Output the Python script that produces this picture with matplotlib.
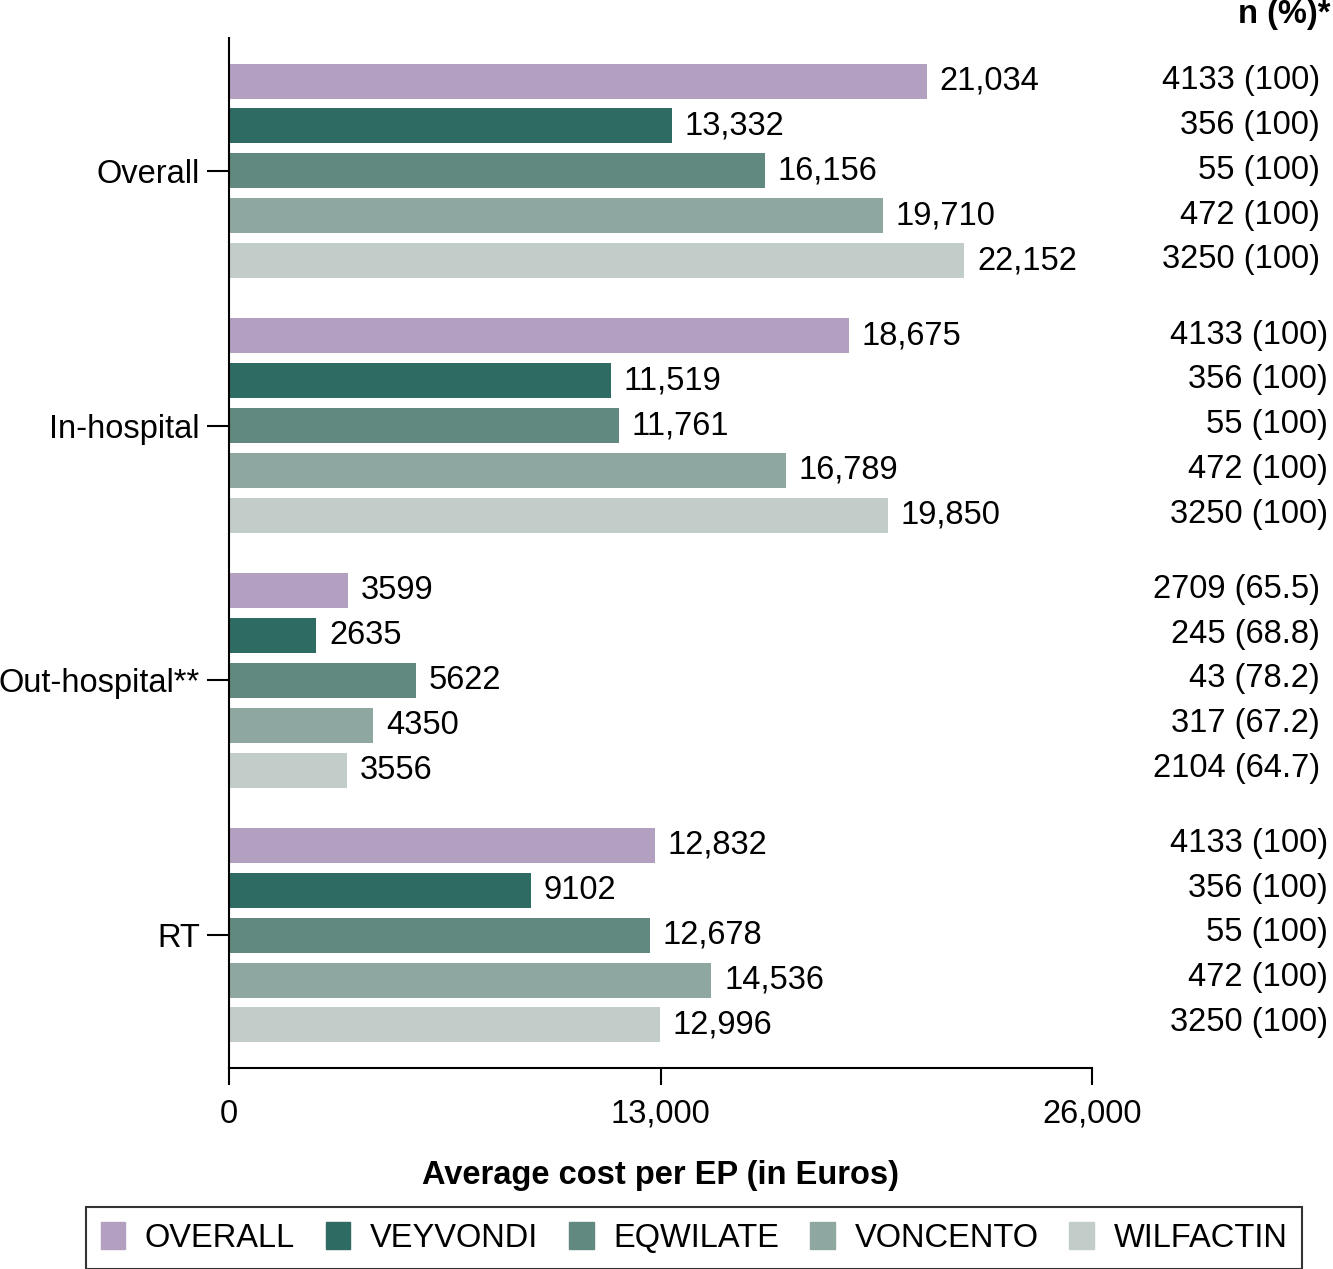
import numpy as np
import matplotlib.pyplot as plt
from matplotlib.patches import Patch

plt.rcParams['font.family'] = ['Liberation Sans', 'DejaVu Sans']

groups = ['Overall', 'In-hospital', 'Out-hospital**', 'RT']
series = ['OVERALL', 'VEYVONDI', 'EQWILATE', 'VONCENTO', 'WILFACTIN']
colors = ['#b3a0c0', '#2e6b62', '#62897f', '#8fa7a1', '#c2ccc9']

costs = [
    [21034, 13332, 16156, 19710, 22152],
    [18675, 11519, 11761, 16789, 19850],
    [3599, 2635, 5622, 4350, 3556],
    [12832, 9102, 12678, 14536, 12996],
]
counts = [
    ['4133 (100)', '356 (100)', '55 (100)', '472 (100)', '3250 (100)'],
    ['4133 (100)', '356 (100)', '55 (100)', '472 (100)', '3250 (100)'],
    ['2709 (65.5)', '245 (68.8)', '43 (78.2)', '317 (67.2)', '2104 (64.7)'],
    ['4133 (100)', '356 (100)', '55 (100)', '472 (100)', '3250 (100)'],
]

fig = plt.figure(figsize=(13.33, 12.69), dpi=100)
ax = fig.add_axes([229 / 1333, 1 - 1068 / 1269, (1092 - 229) / 1333, (1068 - 38) / 1269])

gap = 5.68
fs = 23.5
# right column alignment differs slightly per group in the original
right_x = [1320, 1328, 1320, 1328]

for g, grp in enumerate(groups):
    for i, s in enumerate(series):
        y = g * gap + i
        v = costs[g][i]
        ax.barh(y, v, height=0.78, color=colors[i])
        lab = f'{v:,}' if v >= 10000 else str(v)
        ax.text(v + 380, y, lab, va='center', ha='left', fontsize=fs)
        ax.text(right_x[g] / 1333, 1 - (38 + (y + 0.96) * 44.75) / 1269,
                counts[g][i], transform=fig.transFigure, va='center', ha='right', fontsize=fs)

ax.set_ylim(3 * gap + 4 + 0.96, -0.96)
ax.set_xlim(0, 26000)
ax.set_yticks([g * gap + 2 for g in range(len(groups))])
ax.set_yticklabels(groups, fontsize=fs)
ax.set_xticks([0, 13000, 26000])
ax.set_xticklabels(['0', '13,000', '26,000'], fontsize=fs)
ax.tick_params(axis='y', length=16, width=1.5, pad=5)
ax.tick_params(axis='x', length=12, width=1.5, pad=10)
for sp in ['top', 'right']:
    ax.spines[sp].set_visible(False)
for sp in ['left', 'bottom']:
    ax.spines[sp].set_linewidth(1.5)

ax.set_xlabel('Average cost per EP (in Euros)', fontsize=fs, fontweight='bold', labelpad=22)
fig.text(1330 / 1333, 1 - 15 / 1269, 'n (%)*', ha='right', va='center', fontsize=fs, fontweight='bold')

handles = [Patch(color=c, label=s) for s, c in zip(series, colors)]
leg = fig.legend(handles=handles, loc='center', bbox_to_anchor=(694 / 1333, 1 - 1238 / 1269),
                 ncol=5, fontsize=fs, frameon=True, fancybox=False, edgecolor='black',
                 handlelength=0.75, handleheight=0.9, handletextpad=0.6, columnspacing=0.95,
                 borderpad=0.45)
leg.get_frame().set_linewidth(1.5)

fig.savefig('out.png', dpi=100)
